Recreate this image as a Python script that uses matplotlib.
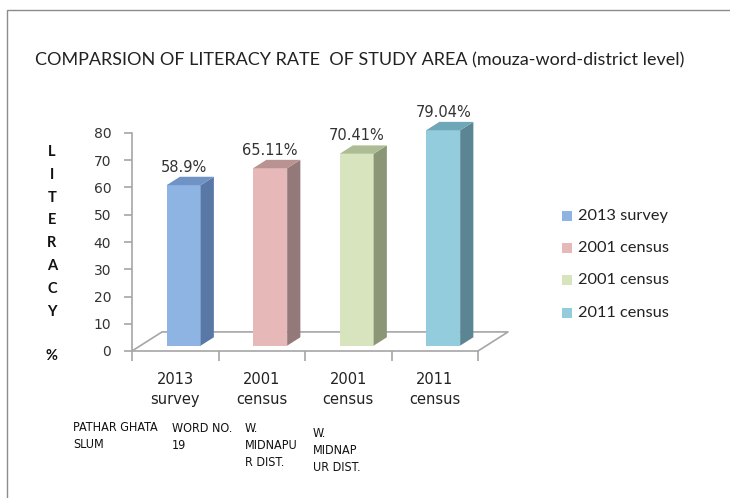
import matplotlib
matplotlib.use("Agg")
import matplotlib.pyplot as plt
from matplotlib.patches import Polygon, Rectangle

# literacy rate data
categories = ["2013\nsurvey", "2001\ncensus", "2001\ncensus", "2011\ncensus"]
legend_labels = ["2013 survey", "2001 census", "2001 census", "2011 census"]
literacy = [58.9, 65.11, 70.41, 79.04]
value_labels = ["58.9%", "65.11%", "70.41%", "79.04%"]
area_notes = ["PATHAR GHATA\nSLUM", "WORD NO.\n19", "W.\nMIDNAPU\nR DIST.", "W.\nMIDNAP\nUR DIST."]
y_ticks = [0, 10, 20, 30, 40, 50, 60, 70, 80]

front_colors = ["#8EB4E3", "#E6B9B8", "#D7E4BD", "#93CDDD"]
top_colors = ["#6F93C4", "#B99392", "#AEBC94", "#70A7B8"]
side_colors = ["#5A78A6", "#94797A", "#8A9676", "#5C8593"]

W, H = 730, 498
fig = plt.figure(figsize=(W / 100, H / 100), dpi=100)

# outer frame
fig.add_artist(Rectangle((7 / W, -0.1), 1.0, (H - 10) / H + 0.1, transform=fig.transFigure,
                         fill=False, edgecolor="#8C8C8C", lw=1.0))

ax = fig.add_axes([132 / W, (H - 351) / H, 346 / W, 218 / H])
ax.set_xlim(-0.5, len(literacy) - 0.5)
ax.set_ylim(0, 80)
ax.patch.set_visible(False)
for s in ["top", "right"]:
    ax.spines[s].set_visible(False)
ax.spines["left"].set_color("#A6A6A6")
ax.spines["bottom"].set_color("#A6A6A6")
ax.spines["left"].set_linewidth(1.2)
ax.spines["bottom"].set_linewidth(1.2)

ax.set_yticks(y_ticks)
ax.tick_params(axis="y", direction="out", length=6, color="#A6A6A6", width=1.2,
               labelsize=10, labelcolor="#333333", pad=9)

# category separators as major ticks, names as minor tick labels
ax.set_xticks([i - 0.5 for i in range(len(literacy) + 1)])
ax.set_xticklabels([])
ax.tick_params(axis="x", which="major", direction="out", length=7, color="#A6A6A6", width=1.2)
ax.set_xticks(range(len(literacy)), minor=True)
ax.set_xticklabels(categories, minor=True, fontsize=10.5, color="#222222", linespacing=1.45)
ax.tick_params(axis="x", which="minor", length=0, pad=15)

# pseudo 3-d depth of the floor, in data units
DX, DY = 0.347, 7.0
d0, d1 = 0.28, 0.72
bw = 0.393
n = len(literacy)

# floor outline
x_left, x_right = -0.5, n - 0.5
ax.plot([x_left, x_left + DX, x_right + DX, x_right],
        [0, DY, DY, 0], color="#A6A6A6", lw=1.2, clip_on=False, zorder=1)

for i, v in enumerate(literacy):
    xl = i - bw / 2
    xr = i + bw / 2
    front = Polygon([(xl + d0 * DX, d0 * DY), (xr + d0 * DX, d0 * DY),
                     (xr + d0 * DX, v + d0 * DY), (xl + d0 * DX, v + d0 * DY)],
                    closed=True, facecolor=front_colors[i], edgecolor="none", zorder=3, clip_on=False)
    side = Polygon([(xr + d0 * DX, d0 * DY), (xr + d1 * DX, d1 * DY),
                    (xr + d1 * DX, v + d1 * DY), (xr + d0 * DX, v + d0 * DY)],
                   closed=True, facecolor=side_colors[i], edgecolor="none", zorder=3, clip_on=False)
    top = Polygon([(xl + d0 * DX, v + d0 * DY), (xr + d0 * DX, v + d0 * DY),
                   (xr + d1 * DX, v + d1 * DY), (xl + d1 * DX, v + d1 * DY)],
                  closed=True, facecolor=top_colors[i], edgecolor="none", zorder=3, clip_on=False)
    for p in (front, side, top):
        ax.add_patch(p)
    ax.annotate(value_labels[i], (i + d0 * DX, v + d0 * DY), xytext=(0, 13),
                textcoords="offset points", ha="center", va="center",
                fontsize=10.5, color="#333333", annotation_clip=False)

# title
fig.text(35 / W, 1 - 60 / H, "COMPARSION OF LITERACY RATE  OF STUDY AREA (mouza-word-district level)",
         family="Lato", fontsize=13, color="#222222", ha="left", va="center")

# vertical axis caption
for k, ch in enumerate("LITERACY"):
    fig.text(52 / W, 1 - (152 + k * 22.8) / H, ch, family="Lato", weight="bold",
             fontsize=10.5, color="#111111", ha="center", va="center")
fig.text(52 / W, 1 - 356 / H, "%", family="Lato", weight="bold", fontsize=10.5,
         color="#111111", ha="center", va="center")

# area notes under the categories
note_pos = [(73, 421), (172, 422), (245, 422), (313, 427)]
for (px, py), txt in zip(note_pos, area_notes):
    fig.text(px / W, 1 - py / H, txt, family="DejaVu Sans", stretch="condensed", fontsize=9,
             color="#111111", ha="left", va="top", linespacing=1.4)

# legend
leg_y = [216, 248, 280, 313]
for k, lab in enumerate(legend_labels):
    fig.add_artist(Rectangle((562 / W, 1 - (leg_y[k] + 5) / H), 10 / W, 10 / H,
                             transform=fig.transFigure, facecolor=front_colors[k], edgecolor="none"))
    fig.text(578 / W, 1 - leg_y[k] / H, lab, family="Lato", fontsize=11.8, color="#222222",
             ha="left", va="center")

fig.savefig("out.png", dpi=100)
